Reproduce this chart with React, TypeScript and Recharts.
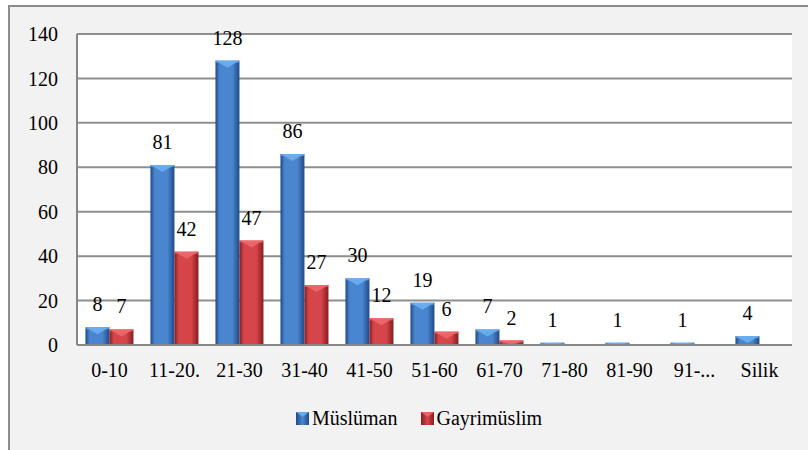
import React from "react";
import { BarChart, Bar, XAxis, YAxis, CartesianGrid, Legend, LabelList } from "recharts";

// kategoriler ve seriler
const categories = ["0-10", "11-20.", "21-30", "31-40", "41-50", "51-60", "61-70", "71-80", "81-90", "91-...", "Silik"];
const muslumanValues = [8, 81, 128, 86, 30, 19, 7, 1, 1, 1, 4];
const gayrimuslimValues = [7, 42, 47, 27, 12, 6, 2, 0, 0, 0, 0];
const yTicks = [0, 20, 40, 60, 80, 100, 120, 140];

const data = categories.map((name, i) => ({
  name,
  muslim: muslumanValues[i],
  gayri: gayrimuslimValues[i],
}));

const FONT = "Liberation Serif, DejaVu Serif, Times New Roman, serif";
const AXIS = "#868686";

const palette = {
  blue: { id: "gradBlue", top: "#6cb0f2", dark: "#1f4a86", light: "#4a86d0" },
  red: { id: "gradRed", top: "#ee6a6e", dark: "#861c1f", light: "#d6454a" },
};

// Excel tarzı eğimli sütun
function BevelBar(props: any, kind: "blue" | "red") {
  const { x, y, width, height } = props;
  if (!height || height <= 0) return <g />;
  const c = palette[kind];
  const bev = Math.min(7, height);
  return (
    <g>
      <rect x={x} y={y} width={width} height={height} fill={`url(#${c.id})`} />
      <polygon
        points={`${x},${y} ${x + width},${y} ${x + width / 2},${y + bev}`}
        fill={c.top}
        opacity={0.85}
      />
      <rect x={x} y={y} width={width} height={Math.min(2, height)} fill={c.top} opacity={0.6} />
    </g>
  );
}

function LegendContent() {
  const item = (kind: "blue" | "red", label: string) => (
    <div style={{ display: "flex", alignItems: "center", marginRight: kind === "blue" ? 23 : 0 }}>
      <svg width={13} height={13} style={{ marginRight: 3 }}>
        <defs>
          <linearGradient id={`${palette[kind].id}L`} x1="0" y1="0" x2="1" y2="0">
            <stop offset="0%" stopColor={palette[kind].dark} />
            <stop offset="50%" stopColor={palette[kind].light} />
            <stop offset="100%" stopColor={palette[kind].dark} />
          </linearGradient>
        </defs>
        <rect x={0} y={0} width={13} height={13} fill={`url(#${palette[kind].id}L)`} />
        <polygon points="0,0 13,0 6.5,5" fill={palette[kind].top} opacity={0.85} />
      </svg>
      <span>{label}</span>
    </div>
  );
  return (
    <div style={{
      height: 24,
      lineHeight: "24px",
      display: "flex",
      justifyContent: "center",
      alignItems: "center",
      paddingLeft: 30,
      fontFamily: FONT,
      fontSize: 20,
      color: "#000",
    }}>
      {item("blue", "Müslüman")}
      {item("red", "Gayrimüslim")}
    </div>
  );
}

export default function App() {
  return (
    <div style={{ position: "fixed", left: 0, top: 0, width: 808, height: 450, overflow: "hidden", background: "#fff" }}>
      <div style={{
        position: "absolute",
        left: 8,
        top: 5,
        width: 820,
        height: 470,
        background: "#f2f2f2",
        borderLeft: "2px solid #8c8c8c",
        borderTop: "2px solid #8c8c8c",
      }} />
      <div style={{ position: "absolute", left: 0, top: 0 }}>
        <BarChart
          width={808}
          height={450}
          data={data}
          margin={{ top: 34, right: 16, left: 0, bottom: 20 }}
          barCategoryGap="13%"
          barGap={0}
        >
          <defs>
            {(["blue", "red"] as const).map((k) => (
              <linearGradient key={k} id={palette[k].id} x1="0" y1="0" x2="1" y2="0">
                <stop offset="0%" stopColor={palette[k].dark} />
                <stop offset="18%" stopColor={palette[k].light} />
                <stop offset="70%" stopColor={palette[k].light} />
                <stop offset="100%" stopColor={palette[k].dark} />
              </linearGradient>
            ))}
          </defs>
          <CartesianGrid vertical={false} stroke="#8e8e8e" strokeWidth={2} fill="#fff" />
          <XAxis
            dataKey="name"
            interval={0}
            height={61}
            tickSize={0}
            tickMargin={18}
            axisLine={{ stroke: AXIS, strokeWidth: 2 }}
            tickLine={false}
            tick={{ fill: "#000", fontSize: 20, fontFamily: FONT }}
          />
          <YAxis
            width={77}
            domain={[0, 140]}
            ticks={yTicks}
            interval={0}
            tickSize={0}
            tickMargin={19}
            axisLine={{ stroke: AXIS, strokeWidth: 2 }}
            tickLine={false}
            tick={{ fill: "#000", fontSize: 20, fontFamily: FONT }}
          />
          <Legend verticalAlign="bottom" wrapperStyle={{ left: 0, width: 808 }} content={() => <LegendContent />} />
          <Bar
            dataKey="muslim"
            name="Müslüman"
            fill="#3a6fba"
            isAnimationActive={false}
            shape={(p: any) => BevelBar(p, "blue")}
          >
            <LabelList dataKey="muslim" position="top" offset={16} fill="#000" fontSize={20} fontFamily={FONT} />
          </Bar>
          <Bar
            dataKey="gayri"
            name="Gayrimüslim"
            fill="#c8373a"
            isAnimationActive={false}
            shape={(p: any) => BevelBar(p, "red")}
          >
            <LabelList
              dataKey="gayri"
              position="top"
              offset={16}
              fill="#000"
              fontSize={20}
              fontFamily={FONT}
              formatter={(v: any) => (v === 0 ? "" : v)}
            />
          </Bar>
        </BarChart>
      </div>
    </div>
  );
}
